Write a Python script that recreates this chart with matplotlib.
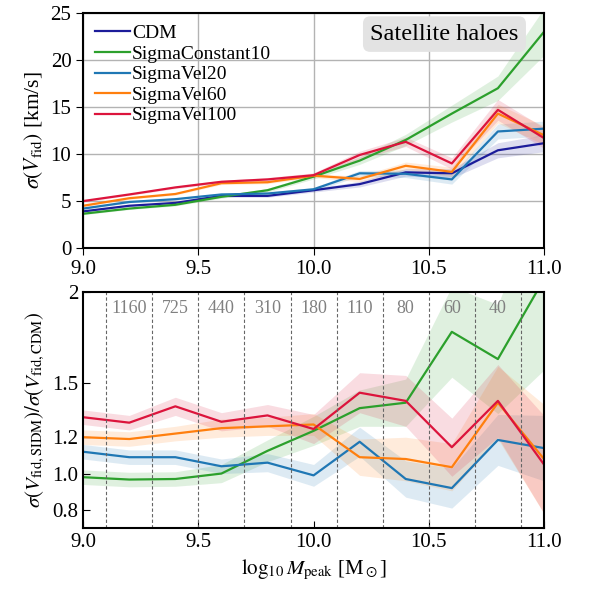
import numpy as np
import matplotlib
matplotlib.use("Agg")
import matplotlib.pyplot as plt

plt.rcParams['font.family'] = ['Liberation Serif', 'DejaVu Serif']
plt.rcParams['mathtext.fontset'] = 'stix'

# bin centres
mpeak = [9.0, 9.2, 9.4, 9.6, 9.8, 10.0, 10.2, 10.4, 10.6, 10.8, 11.0]
labels = ['CDM', 'SigmaConstant10', 'SigmaVel20', 'SigmaVel60', 'SigmaVel100']
colors = ['#1c1c9a', '#2ca02c', '#1f77b4', '#ff7f0e', '#dc143c']

# top panel: sigma(V_fid) [km/s]
sig_cdm = [3.9, 4.5, 4.8, 5.55, 5.55, 6.15, 6.8, 8.05, 7.95, 10.4, 11.15]
sig_c10 = [3.65, 4.2, 4.6, 5.45, 6.15, 7.6, 9.3, 11.5, 14.3, 17.0, 23.0]
sig_v20 = [4.2, 4.9, 5.2, 5.7, 5.8, 6.25, 7.95, 7.9, 7.3, 12.4, 12.7]
sig_v60 = [4.5, 5.3, 5.75, 6.9, 7.0, 7.7, 7.35, 8.75, 8.1, 14.3, 12.0]
sig_v100 = [5.0, 5.7, 6.45, 7.05, 7.3, 7.75, 9.9, 11.3, 9.0, 14.7, 11.7]
err_cdm = [0.1, 0.1, 0.12, 0.15, 0.15, 0.2, 0.3, 0.4, 0.5, 0.8, 0.9]
err_c10 = [0.1, 0.1, 0.12, 0.15, 0.2, 0.25, 0.4, 0.6, 0.9, 1.3, 2.5]
err_v20 = [0.1, 0.1, 0.12, 0.15, 0.15, 0.2, 0.3, 0.4, 0.5, 0.8, 0.8]
err_v60 = [0.1, 0.1, 0.12, 0.15, 0.15, 0.2, 0.3, 0.4, 0.5, 1.0, 1.0]
err_v100 = [0.1, 0.1, 0.12, 0.15, 0.2, 0.25, 0.4, 0.5, 0.6, 1.1, 1.1]

# bottom panel: ratio to CDM
rat_c10 = [0.98, 0.967, 0.97, 1.0, 1.125, 1.235, 1.36, 1.39, 1.78, 1.63, 2.07]
rat_v20 = [1.12, 1.09, 1.09, 1.04, 1.06, 0.99, 1.175, 0.97, 0.92, 1.185, 1.14]
rat_v60 = [1.20, 1.19, 1.22, 1.25, 1.26, 1.27, 1.09, 1.08, 1.035, 1.39, 1.08]
rat_v100 = [1.31, 1.28, 1.37, 1.285, 1.32, 1.245, 1.445, 1.40, 1.145, 1.40, 1.05]
rerr_c10 = [0.04, 0.04, 0.04, 0.05, 0.06, 0.08, 0.1, 0.13, 0.25, 0.3, 0.5]
rerr_v20 = [0.04, 0.04, 0.04, 0.04, 0.05, 0.06, 0.08, 0.1, 0.11, 0.14, 0.18]
rerr_v60 = [0.04, 0.04, 0.04, 0.05, 0.05, 0.06, 0.1, 0.12, 0.13, 0.2, 0.3]
rerr_v100 = [0.04, 0.04, 0.05, 0.05, 0.06, 0.08, 0.11, 0.14, 0.16, 0.2, 0.27]

bin_edges = [9.1, 9.3, 9.5, 9.7, 9.9, 10.1, 10.3, 10.5, 10.7, 10.9]
counts = ['1160', '725', '440', '310', '180', '110', '80', '60', '40']

fig = plt.figure(figsize=(5.9, 5.92), dpi=100)
ax1 = fig.add_axes([0.141, 0.581, 0.781, 0.397])
ax2 = fig.add_axes([0.141, 0.108, 0.781, 0.399])

x = np.array(mpeak)
tops = [sig_cdm, sig_c10, sig_v20, sig_v60, sig_v100]
terrs = [err_cdm, err_c10, err_v20, err_v60, err_v100]
for y, e, c, lab in zip(tops, terrs, colors, labels):
    y = np.array(y); e = np.array(e)
    ax1.fill_between(x, y - e, y + e, color=c, alpha=0.15, lw=0)
    ax1.plot(x, y, color=c, lw=1.6, label=lab)

ax1.set_xlim(9.0, 11.0)
ax1.set_ylim(0, 25)
ax1.set_xticks([9.0, 9.5, 10.0, 10.5, 11.0])
ax1.set_yticks([0, 5, 10, 15, 20, 25])
ax1.grid(True, color='0.7', lw=1.0)
ax1.set_axisbelow(True)
ax1.tick_params(labelsize=15, direction='out', length=5)
ax1.set_ylabel(r'$\sigma(V_{\rm fid})$ [km/s]', fontsize=15.5)
ax1.legend(loc='upper left', fontsize=14, frameon=False, handlelength=1.8,
           handletextpad=0.1, labelspacing=0.15, borderaxespad=0.2)
ax1.text(0.945, 0.955, 'Satellite haloes', transform=ax1.transAxes, ha='right', va='top',
         fontsize=17.5, bbox=dict(boxstyle='round,pad=0.3', fc='0.89', ec='none'))

bots = [rat_c10, rat_v20, rat_v60, rat_v100]
berrs = [rerr_c10, rerr_v20, rerr_v60, rerr_v100]
for y, e, c in zip(bots, berrs, colors[1:]):
    y = np.array(y); e = np.array(e)
    ax2.fill_between(x, y - e, y + e, color=c, alpha=0.15, lw=0)
    ax2.plot(x, y, color=c, lw=1.6)

for xe in bin_edges:
    ax2.axvline(xe, color='0.4', ls='--', lw=0.8, dashes=(3, 2))
for i, n in enumerate(counts):
    xc = 0.5 * (bin_edges[i] + bin_edges[i + 1])
    ax2.text(xc, 0.965, n, transform=ax2.get_xaxis_transform(), ha='center', va='top',
             fontsize=13, color='0.5')

ax2.set_xlim(9.0, 11.0)
ax2.set_ylim(0.7, 2.0)
ax2.set_xticks([9.0, 9.5, 10.0, 10.5, 11.0])
ax2.set_yticks([0.8, 1.0, 1.2, 1.5, 2.0])
ax2.set_yticklabels(['0.8', '1.0', '1.2', '1.5', '2'])
ax2.tick_params(labelsize=15, direction='in', length=5)
ax2.set_ylabel(r'$\sigma(V_{\rm fid,SIDM})/\sigma(V_{\rm fid,CDM})$', fontsize=15)
ax2.set_xlabel(r'$\log_{10}M_{\rm peak}$ [M$_\odot$]', fontsize=15)
for ax in (ax1, ax2):
    for s in ax.spines.values():
        s.set_linewidth(1.5)

fig.savefig('out.png', dpi=100)
